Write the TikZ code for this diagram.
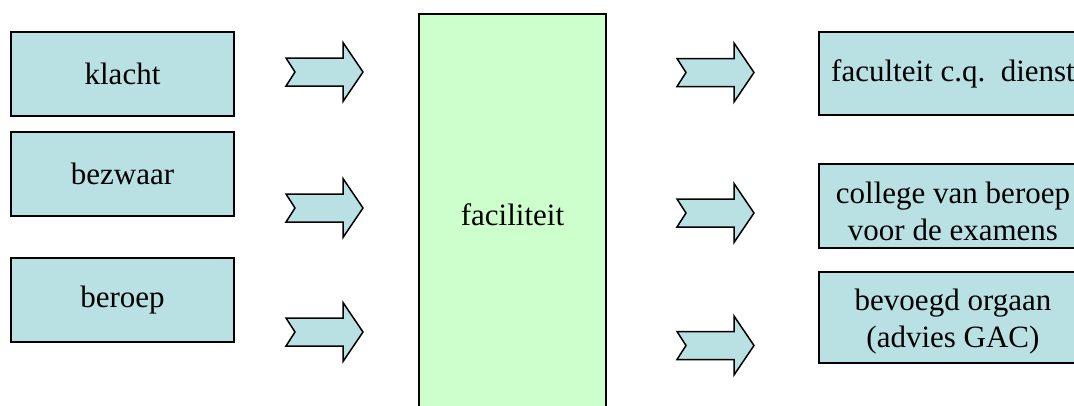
\documentclass[tikz,border=0pt]{standalone}
\usepackage{fontspec}
\setmainfont{Liberation Serif}
\usetikzlibrary{positioning}
\definecolor{lichtblauw}{RGB}{185,225,228}
\definecolor{lichtgroen}{RGB}{204,255,204}
\tikzset{
  blok/.style={draw, line width=1.5pt, fill=lichtblauw, align=center,
    inner sep=0pt, font=\fontsize{31}{37}\selectfont},
  tekst/.style={align=center, inner sep=0pt, font=\fontsize{31}{37}\selectfont},
  pijl/.pic={
    \draw[line width=1.5pt, fill=lichtblauw]
      (0,-14) -- (57,-14) -- (57,-29.5) -- (77,0) -- (57,29.5)
      -- (57,14) -- (0,14) -- (9,0) -- cycle;
  }
}

\begin{document}
\begin{tikzpicture}[x=1pt,y=-1pt]
      \useasboundingbox (0,0) rectangle (1074,405);
      \clip (0,0) rectangle (1074,405);
      % links
      \node[blok, minimum width=223pt, minimum height=84pt] (klacht) at (122.5,74) {klacht};
      \node[blok, minimum width=223pt, minimum height=84pt] (bezwaar) at (122.5,174) {bezwaar};
      \node[blok, minimum width=223pt, minimum height=84pt] (beroep) at (122.5,300) {beroep};
      \pic at (286,72) {pijl};
      \pic at (286,208) {pijl};
      \pic at (286,332) {pijl};
      % midden
      \node[blok, fill=lichtgroen, minimum width=187pt, minimum height=402pt] (faciliteit) at (512.5,215) {faciliteit};
      % rechts
      \pic at (677,72.5) {pijl};
      \pic at (677,213) {pijl};
      \pic at (677,345.5) {pijl};
      \node[blok, minimum width=268pt, minimum height=83pt] (faculteit) at (953,73.5) {faculteit c.q.\ \ dienst};
      \node[blok, minimum width=268pt, minimum height=84pt,
        label={[tekst, yshift=-5pt]center:{college van beroep\\voor de examens}}] (college) at (953,206) {};
      \node[blok, minimum width=268pt, minimum height=91pt,
        label={[tekst, yshift=-4pt]center:{bevoegd orgaan\\(advies GAC)}}] (orgaan) at (953,317.5) {};
    \end{tikzpicture}
\end{document}
